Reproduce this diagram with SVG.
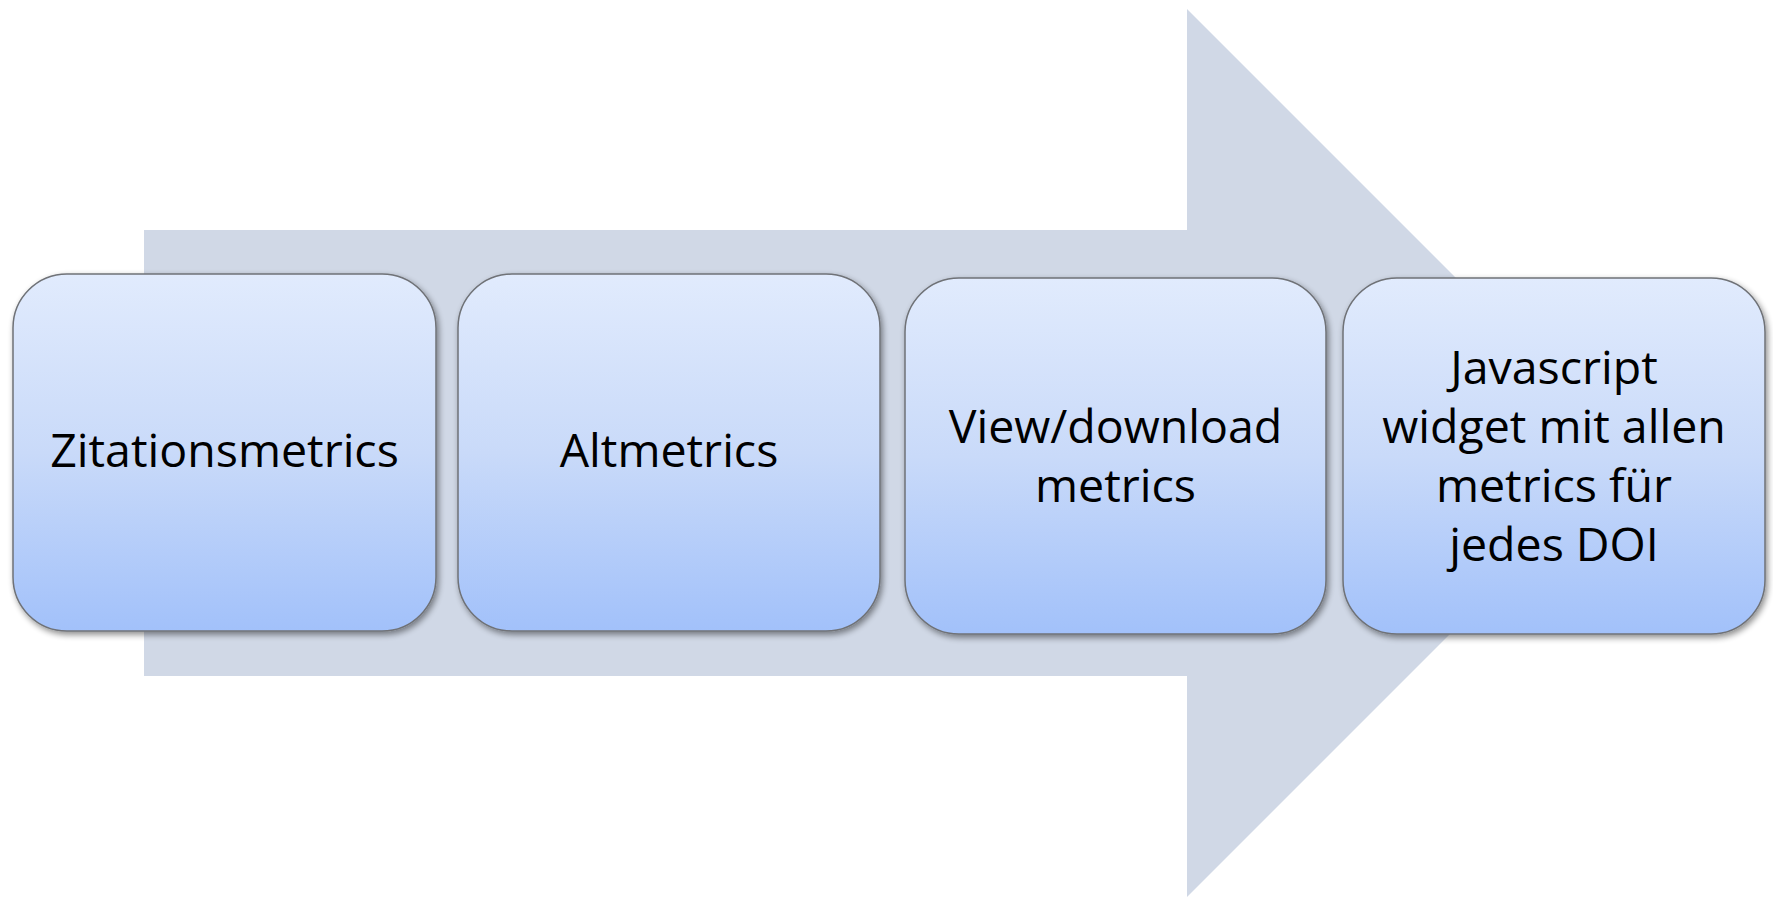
<svg xmlns="http://www.w3.org/2000/svg" width="1773" height="899" viewBox="0 0 1773 899">
<defs>
<linearGradient id="g" x1="0" y1="0" x2="0" y2="1">
<stop offset="0" stop-color="#e1ebfd"/>
<stop offset="0.5" stop-color="#c9daf9"/>
<stop offset="1" stop-color="#a2c1fa"/>
</linearGradient>
<filter id="sh" x="-10%" y="-10%" width="125%" height="130%">
<feGaussianBlur in="SourceAlpha" stdDeviation="3"/>
<feOffset dx="2" dy="3" result="b"/>
<feComponentTransfer><feFuncA type="linear" slope="0.45"/></feComponentTransfer>
<feMerge><feMergeNode/><feMergeNode in="SourceGraphic"/></feMerge>
</filter>
</defs>
<style>
.box{fill:url(#g);stroke:#6f7277;stroke-width:1.5;filter:url(#sh)}
.t{font-family:"Open Sans","Liberation Sans",Arial,sans-serif;font-size:46.5px;fill:#000;text-anchor:middle}
</style>
<rect width="1773" height="899" fill="#ffffff"/>
<g id="arrow">
<polygon points="144,230 1187,230 1187,9 1631,453 1187,897 1187,676 144,676" fill="#d0d8e6"/>
</g>
<g id="connectors"></g>
<g id="n1">
<rect class="box" x="13" y="274" width="423" height="357" rx="54"/>
<text class="t" x="224.5" y="467">Zitationsmetrics</text>
</g>
<g id="n2">
<rect class="box" x="458" y="274" width="422" height="357" rx="54"/>
<text class="t" x="669" y="467">Altmetrics</text>
</g>
<g id="n3">
<rect class="box" x="905" y="278" width="421" height="356" rx="54"/>
<text class="t" x="1115.5" y="443">View/download</text>
<text class="t" x="1115.5" y="502">metrics</text>
</g>
<g id="n4">
<rect class="box" x="1343" y="278" width="422" height="356" rx="54"/>
<text class="t" x="1554" y="384">Javascript</text>
<text class="t" x="1554" y="443">widget mit allen</text>
<text class="t" x="1554" y="502">metrics für</text>
<text class="t" x="1554" y="561">jedes DOI</text>
</g>
</svg>
